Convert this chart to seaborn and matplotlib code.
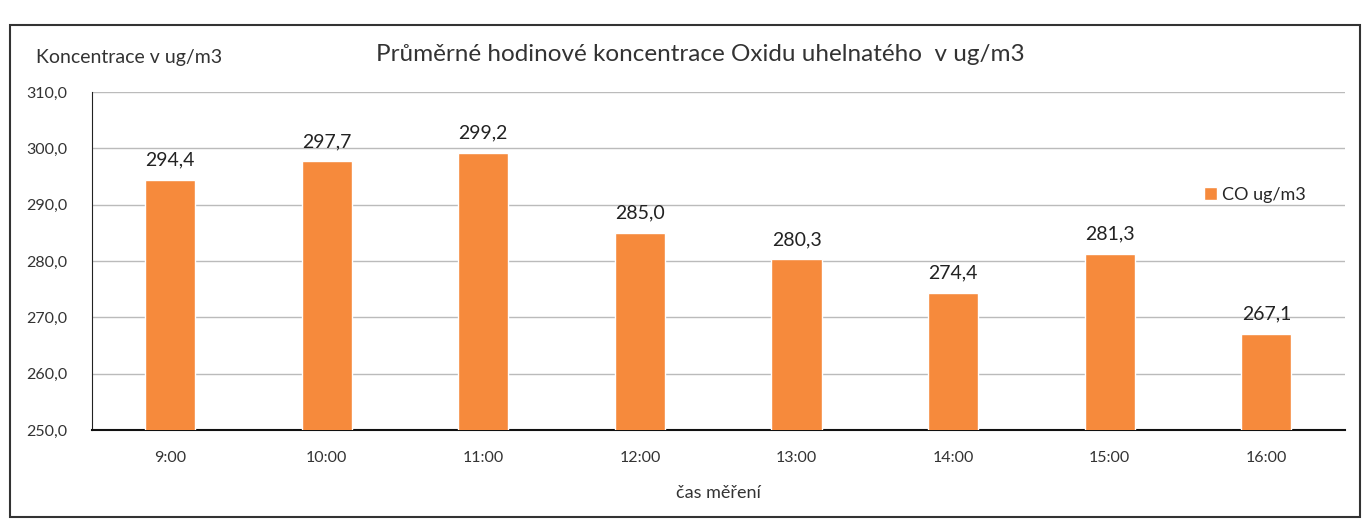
import pandas as pd
import matplotlib.pyplot as plt
import seaborn as sns
from matplotlib.patches import Rectangle

# data
hours = ["9:00", "10:00", "11:00", "12:00", "13:00", "14:00", "15:00", "16:00"]
co_values = [294.4, 297.7, 299.2, 285.0, 280.3, 274.4, 281.3, 267.1]
y_ticks = [250, 260, 270, 280, 290, 300, 310]

df = pd.DataFrame({"hodina": hours, "co": co_values})

sns.set_style("white")
plt.rcParams["font.family"] = ["Lato", "DejaVu Sans"]

fig = plt.figure(figsize=(13.68, 5.23), dpi=100)
ax = fig.add_axes([0.067, 0.178, 0.916, 0.646])

sns.barplot(data=df, x="hodina", y="co", color="#F68A3C", width=0.32,
            saturation=1, ax=ax, label="CO ug/m3", zorder=3)

# hodnoty nad sloupci
for i, v in enumerate(co_values):
    ax.text(i, v + 2.0, f"{v:.1f}".replace(".", ","), ha="center", va="bottom",
            fontsize=14, color="#222222")

ax.set_ylim(250, 310)
ax.set_yticks(y_ticks)
ax.set_yticklabels([f"{t:.1f}".replace(".", ",") for t in y_ticks], fontsize=11.5, color="#333333")
ax.tick_params(axis="x", labelsize=11.5, labelcolor="#333333", pad=12)
ax.tick_params(axis="y", pad=14)
ax.yaxis.grid(True, color="#BBBBBB", linewidth=1, zorder=0)
ax.set_axisbelow(True)

for side in ["top", "right"]:
    ax.spines[side].set_visible(False)
ax.spines["left"].set_color("#222222")
ax.spines["bottom"].set_color("#111111")
ax.spines["bottom"].set_linewidth(1.5)

ax.set_xlabel("čas měření", fontsize=13, color="#333333", labelpad=14)
ax.set_ylabel("")

fig.text(0.026, 0.89, "Koncentrace v ug/m3", fontsize=14, color="#333333", va="center")
fig.text(0.512, 0.895, "Průměrné hodinové koncentrace Oxidu uhelnatého  v ug/m3",
         fontsize=17.5, color="#333333", ha="center", va="center")

ax.legend(loc="center left", bbox_to_anchor=(0.875, 0.695), frameon=False,
          fontsize=13, handlelength=0.7, handleheight=0.7, handletextpad=0.3)

# ramecek grafu
fig.patches.append(Rectangle((0.007, 0.011), 0.987, 0.942, transform=fig.transFigure,
                             fill=False, edgecolor="#333333", linewidth=1.5))

fig.savefig("out.png", dpi=100)
